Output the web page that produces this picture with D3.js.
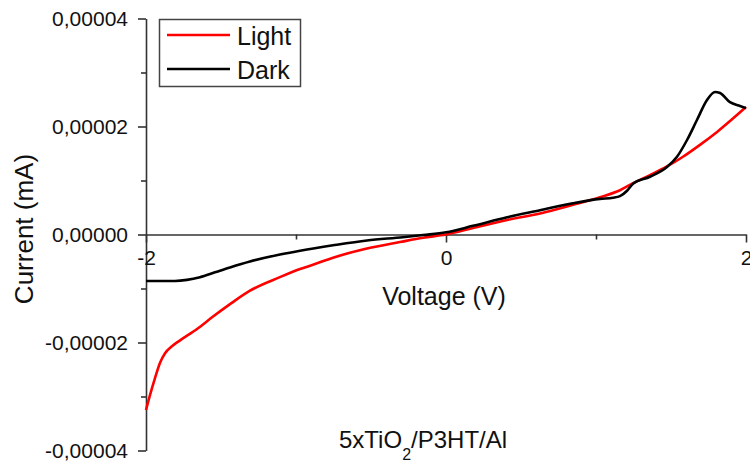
<!DOCTYPE html>
<html>
<head>
<meta charset="utf-8">
<script src="https://cdn.jsdelivr.net/npm/d3@7"></script>
<style>
  html, body { margin: 0; padding: 0; background: #fff; }
  svg { display: block; font-family: "Liberation Sans", Arial, sans-serif; }
</style>
</head>
<body>
<svg id="chart" width="750" height="464"></svg>
<script>
// ---- data (current in units of 1e-5 mA) ----
const lightVoltage = [-2.0, -1.973, -1.94, -1.907, -1.873, -1.827, -1.773, -1.66, -1.553, -1.44, -1.307, -1.107, -0.973, -0.887, -0.753, -0.527, -0.307, -0.153, 0.0, 0.18, 0.407, 0.627, 0.847, 1.027, 1.16, 1.247, 1.36, 1.473, 1.58, 1.693, 1.807, 2.0];
const lightCurrent = [-3.25, -2.97, -2.66, -2.38, -2.2, -2.07, -1.96, -1.75, -1.52, -1.29, -1.04, -0.79, -0.64, -0.56, -0.43, -0.26, -0.14, -0.06, 0.0, 0.12, 0.27, 0.39, 0.55, 0.69, 0.82, 0.95, 1.10, 1.26, 1.44, 1.66, 1.90, 2.36];

const darkVoltage = [-2.0, -1.907, -1.807, -1.727, -1.64, -1.54, -1.44, -1.307, -1.107, -0.973, -0.753, -0.527, -0.287, -0.153, 0.0, 0.18, 0.407, 0.627, 0.847, 1.027, 1.113, 1.16, 1.207, 1.247, 1.36, 1.473, 1.54, 1.607, 1.673, 1.74, 1.793, 1.827, 1.893, 1.96, 2.0];
const darkCurrent = [-0.86, -0.86, -0.86, -0.84, -0.79, -0.70, -0.61, -0.50, -0.37, -0.30, -0.20, -0.11, -0.05, -0.01, 0.04, 0.16, 0.32, 0.45, 0.58, 0.66, 0.68, 0.71, 0.81, 0.94, 1.07, 1.25, 1.44, 1.75, 2.12, 2.49, 2.64, 2.62, 2.45, 2.38, 2.34];

const currentScale = 1e-5;

const xMajorTicks = [-2, 0, 2];
const xMinorTicks = [-1, 1];
const yMajorTicks = [-0.00004, -0.00002, 0, 0.00002, 0.00004];
const yMinorTicks = [-0.00003, -0.00001, 0.00001, 0.00003];

const seriesNames = ["Light", "Dark"];
const seriesColors = ["#ff0000", "#000000"];

const xTitle = "Voltage (V)";
const yTitle = "Current (mA)";

// ---- layout ----
const svg = d3.select("#chart");
const plotLeft = 146, plotRight = 746, plotTop = 18.5, plotBottom = 450.5;

const x = d3.scaleLinear().domain([-2, 2]).range([plotLeft, plotRight]);
const y = d3.scaleLinear().domain([-0.00004, 0.00004]).range([plotBottom, plotTop]);

const locale = d3.formatLocale({decimal: ",", thousands: ".", grouping: [3], currency: ["", ""], minus: "-"});
const yFmt = locale.format(".5f");
const xFmt = locale.format("d");

const axisColor = "#333";

// y axis
svg.append("g").attr("transform", `translate(${plotLeft},0)`)
  .call(d3.axisLeft(y).tickValues(yMajorTicks).tickFormat(yFmt).tickSize(8).tickSizeOuter(0).tickPadding(10));
const yMinor = svg.append("g").attr("transform", `translate(${plotLeft},0)`)
  .call(d3.axisLeft(y).tickValues(yMinorTicks).tickFormat("").tickSize(5).tickSizeOuter(0));
yMinor.select(".domain").remove();

// x axis at zero
svg.append("g").attr("transform", `translate(0,${y(0)})`)
  .call(d3.axisBottom(x).tickValues(xMajorTicks).tickFormat(xFmt).tickSize(8).tickSizeOuter(0).tickPadding(8));
const xMinor = svg.append("g").attr("transform", `translate(0,${y(0)})`)
  .call(d3.axisBottom(x).tickValues(xMinorTicks).tickFormat("").tickSize(5).tickSizeOuter(0));
xMinor.select(".domain").remove();

svg.selectAll(".domain").attr("stroke", axisColor).attr("stroke-width", 1.6);
svg.selectAll(".tick line").attr("stroke", axisColor).attr("stroke-width", 1.6);
svg.selectAll(".tick text").attr("fill", "#111").style("font-size", "21px").style("font-family", "'Liberation Sans', Arial, sans-serif");

// lines
const line = d3.line()
  .x(d => x(d[0]))
  .y(d => y(d[1] * currentScale))
  .curve(d3.curveMonotoneX);

const lightData = d3.zip(lightVoltage, lightCurrent);
const darkData = d3.zip(darkVoltage, darkCurrent);

svg.append("path").datum(lightData).attr("d", line)
  .attr("fill", "none").attr("stroke", seriesColors[0]).attr("stroke-width", 2.6).attr("stroke-linejoin", "round");
svg.append("path").datum(darkData).attr("d", line)
  .attr("fill", "none").attr("stroke", seriesColors[1]).attr("stroke-width", 2.6).attr("stroke-linejoin", "round");

// axis titles
svg.append("text").attr("x", 444).attr("y", 305).attr("text-anchor", "middle")
  .style("font-size", "25px").attr("fill", "#111").text(xTitle);
svg.append("text").attr("transform", "translate(33,229) rotate(-90)").attr("text-anchor", "middle")
  .style("font-size", "26px").attr("fill", "#111").text(yTitle);

// sample title with subscript
const title = svg.append("text").attr("x", 339).attr("y", 448).style("font-size", "24px").attr("fill", "#111");
title.append("tspan").text("5xTiO");
title.append("tspan").attr("dy", 12).style("font-size", "16px").text("2");
title.append("tspan").attr("dy", -12).text("/P3HT/Al");

// legend
const legend = svg.append("g");
legend.append("rect").attr("x", 159.5).attr("y", 19.5).attr("width", 141).attr("height", 67)
  .attr("fill", "#fff").attr("stroke", "#444").attr("stroke-width", 1.5);
seriesNames.forEach((name, i) => {
  const ly = 35 + i * 34;
  legend.append("line").attr("x1", 167).attr("x2", 230).attr("y1", ly).attr("y2", ly)
    .attr("stroke", seriesColors[i]).attr("stroke-width", 2.6);
  legend.append("text").attr("x", 237).attr("y", ly + 10).style("font-size", "25px").attr("fill", "#111").text(name);
});
</script>
</body>
</html>
